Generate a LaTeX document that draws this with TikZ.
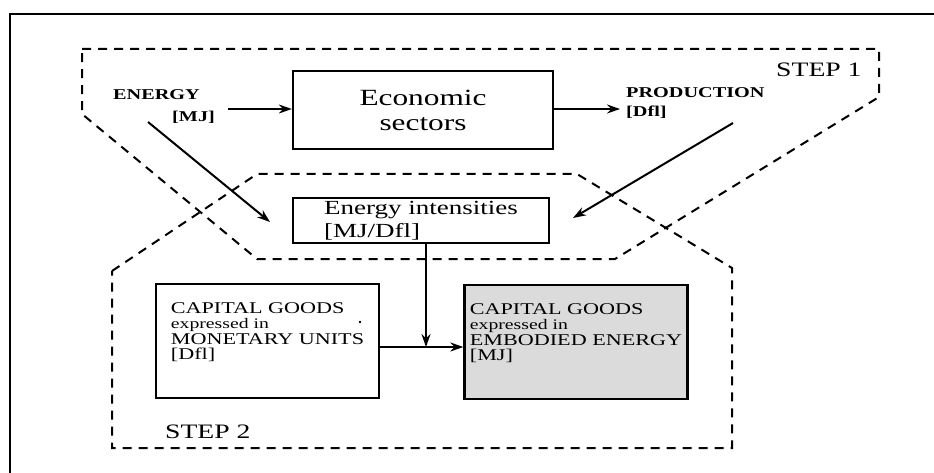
\documentclass[tikz,border=0pt]{standalone}
\usepackage{fontspec}
\setmainfont{Liberation Serif}[FakeStretch=1.35,BoldFeatures={FakeStretch=1.35}]
\usetikzlibrary{arrows.meta}

\tikzset{
  box/.style={draw, line width=2.3pt, inner sep=0pt},
  arr/.style={line width=2pt, -{Stealth[length=13pt,width=9pt]}},
  stepline/.style={line width=2pt, dash pattern=on 9pt off 7pt},
  lbl/.style={inner sep=0pt, anchor=west, font=\bfseries\fontsize{15}{18}\selectfont},
  steplbl/.style={inner sep=0pt, anchor=west, font=\fontsize{20.5}{24}\selectfont},
  capbox/.style={box, minimum width=223pt, minimum height=114pt, align=left,
    font=\fontsize{16.4}{15.5}\selectfont},
}
\newcommand{\expr}[1]{{\fontsize{14.6}{15.5}\selectfont #1}}

\begin{document}
\begin{tikzpicture}[x=1pt,y=-1pt]
  \useasboundingbox (0,0) rectangle (934,473);

  % outer frame (runs past the right and lower page edges)
  \draw[line width=2.4pt] (10,14) rectangle (980,520);

  % the two step regions
  \draw[stepline] (82,49) -- (879,49) -- (879,97) -- (615,259)
                  -- (257,259) -- (82,114) -- cycle;
  \draw[stepline] (112,271) -- (257,174) -- (577,174) -- (732,268)
                  -- (732,448) -- (112,448) -- cycle;

  \node[steplbl] (step1) at (776,70) {STEP 1};
  \node[steplbl] (step2) at (165,432) {STEP 2};

  % step 1
  \node[lbl] (energy) at (113,95) {ENERGY};
  \node[lbl] (mj) at (172,117) {[MJ]};
  \node[lbl] (prod) at (626,93) {PRODUCTION};
  \node[lbl] (dfl) at (626,112) {[Dfl]};

  \node[box, minimum width=260pt, minimum height=78pt, align=center,
        font=\fontsize{23.2}{25}\selectfont] (econ) at (423,110)
        {Economic\\sectors};

  \node[box, minimum width=256pt, minimum height=45pt, align=left,
        font=\fontsize{20}{23.5}\selectfont] (inten) at (421,220.5)
        {Energy intensities\\{}[MJ/Dfl]};

  \coordinate (eA) at (228,109);
  \coordinate (eB) at (148,122);
  \coordinate (eTip) at (270,222);
  \coordinate (pA) at (620,109);
  \coordinate (pB) at (733,123);
  \coordinate (pTip) at (573,218);

  \draw[arr] (eA) -- (econ.west |- eA);
  \draw[arr] (econ.east |- pA) -- (pA);
  \draw[arr] (eB) -- (eTip);
  \draw[arr] (pB) -- (pTip);

  % step 2
  \node[capbox] (capm) at (267.5,341)
        {CAPITAL GOODS\\\expr{expressed in}\\MONETARY UNITS\\{}[Dfl]\\[4pt]};
  \node[capbox, fill=black!14] (cape) at (576,342)
        {CAPITAL GOODS\\\expr{expressed in}\\EMBODIED ENERGY\\{}[MJ]\\[4pt]};
  \fill (360,322) circle (1.3);

  \coordinate (jn) at (426,347);
  \draw[arr] (inten.south -| jn) -- (jn);
  \draw[arr] (capm.east |- jn) -- (cape.west |- jn);
\end{tikzpicture}
\end{document}
